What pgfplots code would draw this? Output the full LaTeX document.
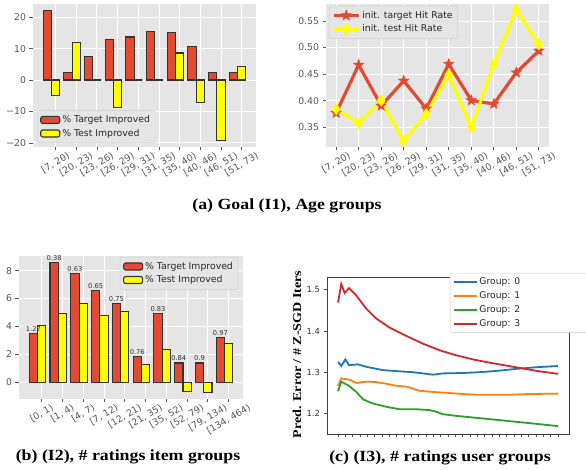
\documentclass[border=0pt]{standalone}
\usepackage{pgfplots}
\pgfplotsset{compat=1.18}
\usetikzlibrary{plotmarks}
\usepackage{fontspec}
\setmainfont{DejaVu Sans}
\newfontfamily\capfont{Liberation Serif}
\definecolor{ggbg}{HTML}{E5E5E5}
\definecolor{ggred}{HTML}{E24A33}
\definecolor{ggyel}{HTML}{FFFF00}
\definecolor{ggtxt}{HTML}{555555}
\definecolor{edge}{HTML}{333333}
\definecolor{tabblue}{HTML}{1F77B4}
\definecolor{taborange}{HTML}{FF7F0E}
\definecolor{tabgreen}{HTML}{2CA02C}
\definecolor{tabred}{HTML}{D62728}
\pgfdeclareplotmark{fstar}{%
  \pgfpathmoveto{\pgfpointpolar{90}{\pgfplotmarksize}}%
  \pgfpathlineto{\pgfpointpolar{126}{0.42\pgfplotmarksize}}%
  \pgfpathlineto{\pgfpointpolar{162}{\pgfplotmarksize}}%
  \pgfpathlineto{\pgfpointpolar{198}{0.42\pgfplotmarksize}}%
  \pgfpathlineto{\pgfpointpolar{234}{\pgfplotmarksize}}%
  \pgfpathlineto{\pgfpointpolar{270}{0.42\pgfplotmarksize}}%
  \pgfpathlineto{\pgfpointpolar{306}{\pgfplotmarksize}}%
  \pgfpathlineto{\pgfpointpolar{342}{0.42\pgfplotmarksize}}%
  \pgfpathlineto{\pgfpointpolar{18}{\pgfplotmarksize}}%
  \pgfpathlineto{\pgfpointpolar{54}{0.42\pgfplotmarksize}}%
  \pgfpathclose
  \pgfusepathqfillstroke
}
\newcommand\rl[1]{\rotatebox{30}{#1}}
\newcommand\tk{\fontsize{9.3}{11}\selectfont}
\newcommand\capf{\capfont\bfseries\fontsize{15.5}{18}\selectfont}
\pgfplotsset{
 ggstyle/.style={
  scale only axis,
  enlargelimits=false,
  axis background/.style={fill=ggbg},
  axis line style={draw=none},
  grid=major,
  grid style={white, line width=0.9pt},
  tick align=outside,
  tick pos=left,
  major tick length=3.5pt,
  tick style={ggtxt, line width=0.8pt},
  ticklabel style={font=\tk, text=ggtxt},
  /pgf/number format/assume math mode=true,
  xticklabel style={anchor=north, inner sep=1pt},
  legend style={font=\tk, text=black!85, fill=ggbg, draw=black!20, rounded corners=2pt, row sep=1pt, inner sep=3pt},
  legend cell align=left,
 },
 redbar/.style={ybar, bar width=0.4, bar shift=0pt, fill=ggred, draw=edge, line width=1.1pt,
   legend image code/.code={\draw[fill=ggred,draw=edge,line width=1.1pt] (0pt,-3.5pt) rectangle (19pt,3.5pt);}},
 yelbar/.style={ybar, bar width=0.4, bar shift=0pt, fill=ggyel, draw=edge, line width=1.1pt,
   legend image code/.code={\draw[fill=ggyel,draw=edge,line width=1.1pt] (0pt,-3.5pt) rectangle (19pt,3.5pt);}},
}
\begin{document}
\begin{tikzpicture}
\path[use as bounding box] (0pt,0pt) rectangle (586pt,470pt);

% (a) left
\begin{axis}[ggstyle, at={(33pt,323pt)}, anchor=south west, width=223pt, height=143pt,
  xmin=-0.69, xmax=10.09, ymin=-21.3, ymax=24.2,
  xtick={0.4,1.4,2.4,3.4,4.4,5.4,6.4,7.4,8.4,9.4},
  xticklabels={\rl{[7, 20)},\rl{[20, 23)},\rl{[23, 26)},\rl{[26, 29)},\rl{[29, 31)},\rl{[31, 35)},\rl{[35, 40)},\rl{[40, 46)},\rl{[46, 51)},\rl{[51, 73)}},
  ytick={-20,-10,0,10,20}, yticklabels={−20,−10,0,10,20},
  legend style={at={(0.018,0.028)}, anchor=south west}]
\addplot[redbar] coordinates {(0,22.2) (1,2.3) (2,7.4) (3,12.8) (4,13.7) (5,15.4) (6,15.0) (7,10.7) (8,2.3) (9,2.3)};
\addlegendentry{\% Target Improved}
\addplot[yelbar] coordinates {(0.4,-4.8) (1.4,12.0) (2.4,0) (3.4,-8.7) (4.4,0) (5.4,0) (6.4,8.6) (7.4,-7.2) (8.4,-19.3) (9.4,4.4)};
\addlegendentry{\% Test Improved}
\end{axis}

% (a) right
\begin{axis}[ggstyle, at={(326pt,323pt)}, anchor=south west, width=223pt, height=143pt,
  xmin=-0.45, xmax=9.45, ymin=0.313, ymax=0.582,
  xtick={0,...,9},
  xticklabels={\rl{[7, 20)},\rl{[20, 23)},\rl{[23, 26)},\rl{[26, 29)},\rl{[29, 31)},\rl{[31, 35)},\rl{[35, 40)},\rl{[40, 46)},\rl{[46, 51)},\rl{[51, 73)}},
  ytick={0.35,0.4,0.45,0.5,0.55}, yticklabels={0.35,0.40,0.45,0.50,0.55},
  legend style={at={(0.013,0.986)}, anchor=north west},
  legend image code/.code={\draw[mark repeat=2,mark phase=2,#1] plot coordinates {(0pt,0pt) (12.5pt,0pt) (25pt,0pt)};}]
\addplot[ggred, line width=3.2pt, mark=fstar, mark size=5.5pt, mark options={fill=ggred, draw=ggred, line width=0.5pt}]
  coordinates {(0,0.377) (1,0.4675) (2,0.3906) (3,0.4375) (4,0.385) (5,0.469) (6,0.4006) (7,0.394) (8,0.453) (9,0.494)};
\addlegendentry{init. target Hit Rate}
\addplot[ggyel, line width=3.2pt, mark=diamond*, mark size=5.5pt, mark options={fill=ggyel, draw=ggyel, line width=0.5pt}]
  coordinates {(0,0.384) (1,0.358) (2,0.4006) (3,0.324) (4,0.375) (5,0.449) (6,0.35) (7,0.469) (8,0.571) (9,0.506)};
\addlegendentry{init. test Hit Rate}
\end{axis}

% (b)
\begin{axis}[ggstyle, at={(19pt,71pt)}, anchor=south west, width=224pt, height=143pt,
  xmin=-0.69, xmax=10.09, ymin=-1.2, ymax=9.05,
  xtick={0.4,1.4,2.4,3.4,4.4,5.4,6.4,7.4,8.4,9.4},
  xticklabels={\rl{[0, 1)},\rl{[1, 4)},\rl{[4, 7)},\rl{[7, 12)},\rl{[12, 21)},\rl{[21, 35)},\rl{[35, 52)},\rl{[52, 79)},\rl{[79, 134)},\rl{[134, 464)}},
  ytick={0,2,4,6,8}, yticklabels={0,2,4,6,8},
  legend style={at={(0.978,0.993)}, anchor=north east}]
\addplot[redbar, nodes near coords, point meta=explicit symbolic,
  every node near coord/.append style={font=\fontsize{6.7}{8}\selectfont, text=black!80, inner sep=1.5pt}]
  coordinates {(0,3.47) [1.27] (1,8.6) [0.38] (2,7.8) [0.63] (3,6.58) [0.65] (4,5.63) [0.75] (5,1.85) [0.76] (6,4.94) [0.83] (7,1.38) [0.84] (8,1.38) [0.9] (9,3.18) [0.97]};
\addlegendentry{\% Target Improved}
\addplot[yelbar] coordinates {(0.4,4.06) (1.4,4.92) (2.4,5.65) (3.4,4.77) (4.4,5.04) (5.4,1.28) (6.4,2.35) (7.4,-0.67) (8.4,-0.74) (9.4,2.8)};
\addlegendentry{\% Test Improved}
\end{axis}

% (c)
\begin{axis}[scale only axis, enlargelimits=false, at={(327pt,36pt)}, anchor=south west, width=242pt, height=157pt,
  xmin=-1.5, xmax=31.5, ymin=1.15, ymax=1.531,
  xtick={0,...,30}, xticklabels={},
  ytick={1.2,1.3,1.4,1.5}, yticklabels={1.2,1.3,1.4,1.5},
  tick align=outside, tick pos=left, major tick length=3.5pt,
  tick style={black!70, line width=0.6pt},
  axis line style={black!75, line width=0.7pt},
  ticklabel style={font=\fontsize{8.4}{10}\selectfont, text=black!80},
  legend style={at={(0.508,1.025)}, anchor=north west, fill=white, draw=black!20, rounded corners=2pt,
    font=\fontsize{9.2}{11}\selectfont, text=black!85, row sep=1.6pt, inner sep=2.5pt},
  legend cell align=left,
  legend image code/.code={\draw[#1] (0pt,0pt) -- (23pt,0pt);}]
\addplot[tabblue, line width=1.8pt] coordinates {(0,1.325) (0.45,1.315) (1,1.331) (1.5,1.317) (2.73,1.319) (3.86,1.313) (6.14,1.305) (8.41,1.302) (10.2,1.300) (11.6,1.297) (12.95,1.294) (14.3,1.297) (17.0,1.298) (19.3,1.300) (21.6,1.303) (24.3,1.308) (27.0,1.312) (30,1.315)};
\addlegendentry{\makebox[105pt][l]{Group: 0}}
\addplot[taborange, line width=1.8pt] coordinates {(0,1.267) (0.45,1.285) (1.5,1.282) (2.5,1.274) (3.86,1.277) (5.23,1.276) (6.59,1.272) (7.95,1.267) (9.32,1.265) (11.1,1.255) (12.95,1.252) (14.8,1.250) (17.0,1.247) (19.3,1.245) (22.95,1.245) (26.1,1.247) (30,1.248)};
\addlegendentry{Group: 1}
\addplot[tabgreen, line width=1.8pt] coordinates {(0,1.254) (0.45,1.277) (1.5,1.267) (2.5,1.252) (3.41,1.234) (4.77,1.224) (6.59,1.216) (8.41,1.210) (10.7,1.210) (12.5,1.208) (13.4,1.204) (14.3,1.198) (16.1,1.194) (18.4,1.190) (20.7,1.186) (22.95,1.182) (25.2,1.178) (27.95,1.173) (30,1.169)};
\addlegendentry{Group: 2}
\addplot[tabred, line width=1.8pt] coordinates {(0,1.469) (0.45,1.514) (0.91,1.492) (1.5,1.504) (2.5,1.486) (3.86,1.454) (5.23,1.43) (7.05,1.408) (9.32,1.388) (11.6,1.369) (13.9,1.353) (16.1,1.341) (18.4,1.331) (20.7,1.323) (22.95,1.316) (25.2,1.309) (27.5,1.302) (30,1.296)};
\addlegendentry{Group: 3}
\end{axis}

\node[rotate=90, font=\capfont\bfseries\fontsize{12}{14}\selectfont] at (297pt,115.5pt) {\scalebox{1.17}[1]{Pred. Error / \# Z-SGD Iters}};
\node[font=\capf] at (287pt,264pt) {\scalebox{1.15}[1]{(a) Goal (I1), Age groups}};
\node[font=\capf] at (128pt,13pt) {\scalebox{1.15}[1]{(b) (I2), \# ratings item groups}};
\node[font=\capf] at (440pt,12pt) {\scalebox{1.15}[1]{(c) (I3), \# ratings user groups}};
\end{tikzpicture}
\end{document}
